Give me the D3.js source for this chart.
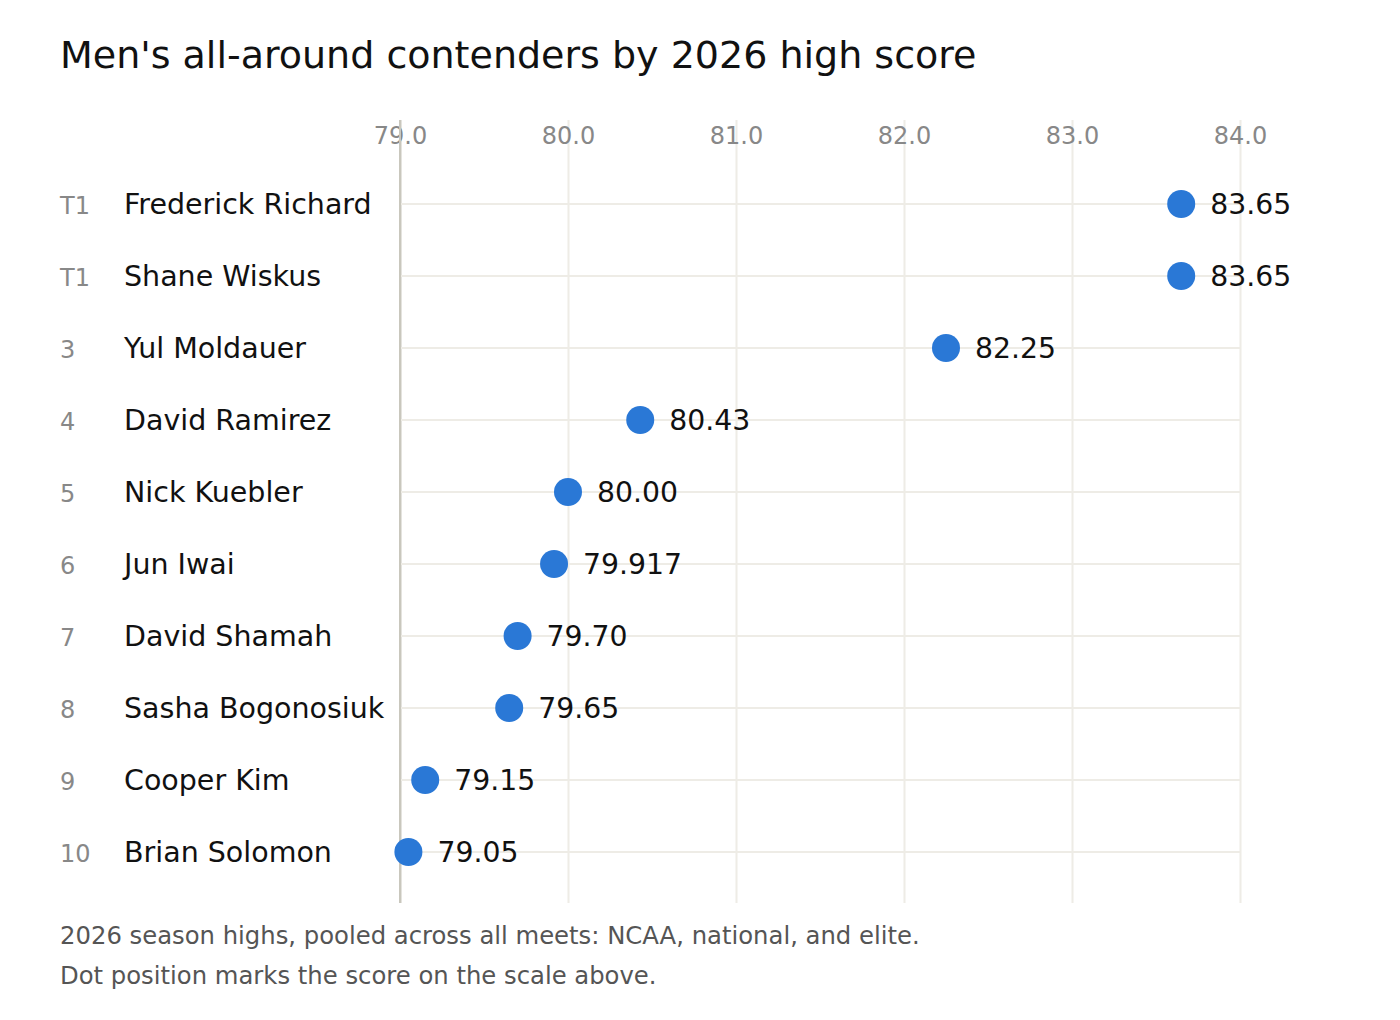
<!DOCTYPE html>
<html>
<head>
<meta charset="utf-8">
<script src="https://cdn.jsdelivr.net/npm/d3@7"></script>
<style>
  body { margin: 0; background: #fff; }
  svg text { font-family: "DejaVu Sans", sans-serif; }
</style>
</head>
<body>
<div id="chart"></div>
<script>
var ranks = ['T1', 'T1', '3', '4', '5', '6', '7', '8', '9', '10'];
var names = ['Frederick Richard', 'Shane Wiskus', 'Yul Moldauer', 'David Ramirez', 'Nick Kuebler',
  'Jun Iwai', 'David Shamah', 'Sasha Bogonosiuk', 'Cooper Kim', 'Brian Solomon'];
var scores = [83.65, 83.65, 82.25, 80.43, 80.00, 79.917, 79.70, 79.65, 79.15, 79.05];
var scoreLabels = ['83.65', '83.65', '82.25', '80.43', '80.00', '79.917', '79.70', '79.65', '79.15', '79.05'];
var tickValues = [79, 80, 81, 82, 83, 84];

var W = 1400, H = 1020;
var cfg = { left: 400, right: 1240, top: 168, rowStep: 72, gridTop: 120, gridBottom: 903 };

var svg = d3.select('#chart').append('svg')
  .attr('width', W)
  .attr('height', H);

svg.append('text')
  .attr('x', 60).attr('y', 68)
  .style('font-size', '38px')
  .style('fill', '#111')
  .text("Men's all-around contenders by 2026 high score");

var x = d3.scaleLinear().domain([79, 84]).range([cfg.left, cfg.right]);
var y = d3.scaleBand()
  .domain(d3.range(names.length))
  .range([cfg.top, cfg.top + cfg.rowStep * names.length]);
function cy(i) { return y(i) + y.bandwidth() / 2; }

// vertical grid + tick labels
var xAxis = d3.axisTop(x).tickValues(tickValues).tickFormat(d3.format('.1f'))
  .tickSize(-(cfg.gridBottom - cfg.gridTop));
svg.append('g')
  .attr('transform', 'translate(0,' + cfg.gridTop + ')')
  .call(function (g) {
    g.call(xAxis);
    g.select('.domain').remove();
    g.selectAll('.tick line').attr('stroke', function (d) { return d === 79 ? '#c9c7bd' : '#eeece6'; })
      .attr('stroke-width', 2);
    g.selectAll('.tick text')
      .attr('y', 0).attr('dy', 0)
      .attr('transform', 'translate(0,24)')
      .style('font-size', '24px')
      .style('fill', '#888')
      .style('font-family', '"DejaVu Sans", sans-serif');
  });

// row lines
svg.append('g').selectAll('line')
  .data(names)
  .enter().append('line')
  .attr('x1', cfg.left).attr('x2', cfg.right)
  .attr('y1', function (d, i) { return cy(i); })
  .attr('y2', function (d, i) { return cy(i); })
  .attr('stroke', '#eeece6')
  .attr('stroke-width', 2);

// redraw the base line on top
svg.append('line')
  .attr('x1', x(79)).attr('x2', x(79))
  .attr('y1', cfg.gridTop).attr('y2', cfg.gridBottom)
  .attr('stroke', '#c9c7bd').attr('stroke-width', 2);

// ranks and names
svg.append('g').selectAll('text')
  .data(ranks)
  .enter().append('text')
  .attr('x', 60)
  .attr('y', function (d, i) { return cy(i) + 10; })
  .style('font-size', '24px')
  .style('fill', '#888')
  .text(function (d) { return d; });

svg.append('g').selectAll('text')
  .data(names)
  .enter().append('text')
  .attr('x', 124)
  .attr('y', function (d, i) { return cy(i) + 10; })
  .style('font-size', '28.5px')
  .style('fill', '#111')
  .text(function (d) { return d; });

// dots
svg.append('g').selectAll('circle')
  .data(scores)
  .enter().append('circle')
  .attr('cx', function (d) { return x(d); })
  .attr('cy', function (d, i) { return cy(i); })
  .attr('r', 14)
  .attr('fill', '#2a78d6');

svg.append('g').selectAll('text')
  .data(scores)
  .enter().append('text')
  .attr('x', function (d) { return x(d) + 29; })
  .attr('y', function (d, i) { return cy(i) + 10; })
  .style('font-size', '28.3px')
  .style('fill', '#111')
  .text(function (d, i) { return scoreLabels[i]; });

// footer
var notes = ['2026 season highs, pooled across all meets: NCAA, national, and elite.',
  'Dot position marks the score on the scale above.'];
svg.append('g').selectAll('text')
  .data(notes)
  .enter().append('text')
  .attr('x', 60)
  .attr('y', function (d, i) { return 944 + i * 40; })
  .style('font-size', '24.3px')
  .style('fill', '#555')
  .text(function (d) { return d; });
</script>
</body>
</html>
